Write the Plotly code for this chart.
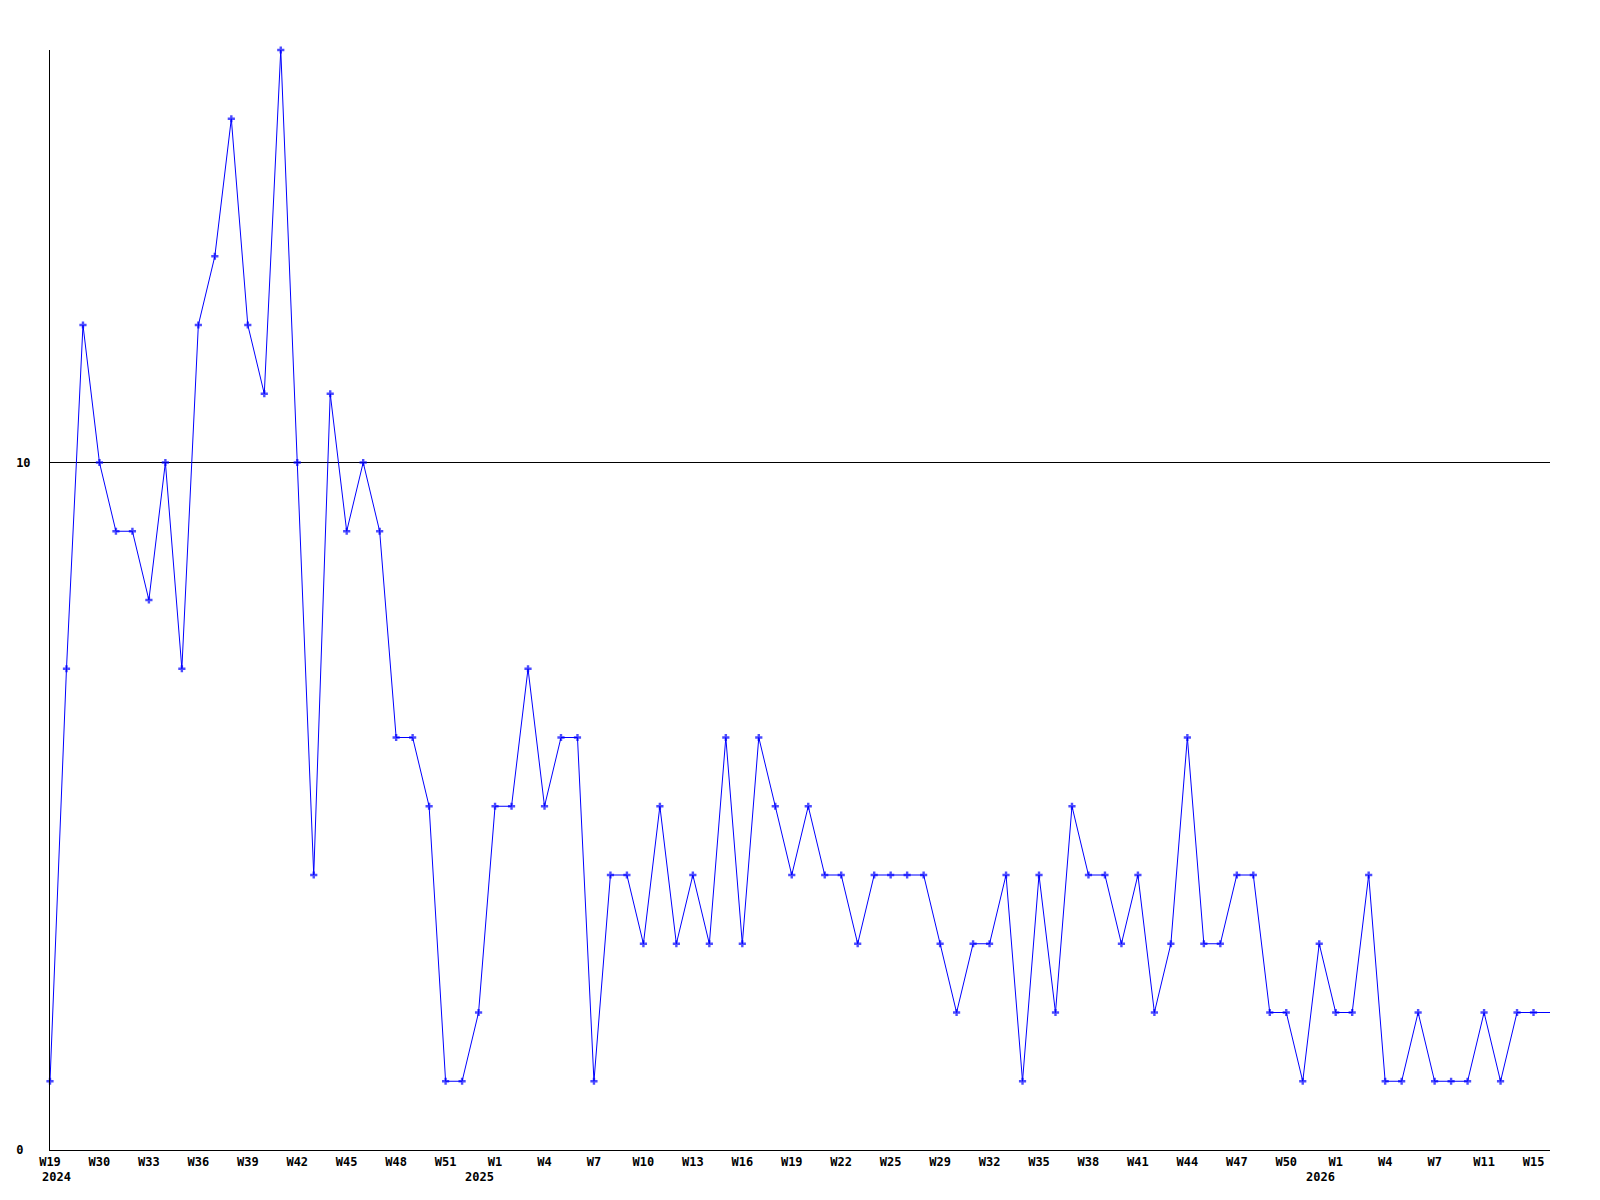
import plotly.graph_objects as go

# weekly counts, one value per week, oldest first
counts = [1, 7, 12, 10, 9, 9, 8, 10, 7, 12, 13, 15, 12, 11, 16, 10, 4, 11, 9, 10,
          9, 6, 6, 5, 1, 1, 2, 5, 5, 7, 5, 6, 6, 1, 4, 4, 3, 5, 3, 4,
          3, 6, 3, 6, 5, 4, 5, 4, 4, 3, 4, 4, 4, 4, 3, 2, 3, 3, 4, 1,
          4, 2, 5, 4, 4, 3, 4, 2, 3, 6, 3, 3, 4, 4, 2, 2, 1, 3, 2, 2,
          4, 1, 1, 2, 1, 1, 1, 2, 1, 2, 2, 2]

week_ticks = ["W19", "W30", "W33", "W36", "W39", "W42", "W45", "W48", "W51",
              "W1", "W4", "W7", "W10", "W13", "W16", "W19", "W22", "W25", "W29",
              "W32", "W35", "W38", "W41", "W44", "W47", "W50",
              "W1", "W4", "W7", "W11", "W15"]
tick_step = 3

years = ["2024", "2025", "2026"]
year_pos = [0, 27, 78]

y_ticks = [0, 10]
y_text = ["0\u00a0", "10"]

FONT = dict(family="DejaVu Sans Mono", size=12, color="black", weight="bold")

x = list(range(len(counts)))
sizes = [6] * (len(counts) - 1) + [0]   # last (current) week drawn without marker

fig = go.Figure()
fig.add_trace(go.Scatter(
    x=x, y=counts, mode="lines+markers",
    line=dict(color="#0000ff", width=1),
    marker=dict(symbol="cross", size=sizes, color="#0000ff", line=dict(width=0)),
    cliponaxis=False, showlegend=False,
))

for yr, pos in zip(years, year_pos):
    first = pos == 0
    fig.add_annotation(
        x=pos, y=0, xref="x", yref="y", text=yr, showarrow=False,
        xanchor="left" if first else "right", yanchor="middle",
        xshift=-10 if first else 1, yshift=-27, font=FONT,
    )

fig.update_xaxes(
    range=[0, len(counts) - 1],
    tickvals=x[::tick_step], ticktext=week_ticks,
    showgrid=False, zeroline=False, showline=True, linecolor="black", linewidth=1,
    ticks="", tickfont=FONT, ticklabelstandoff=1,
)
fig.update_yaxes(
    range=[0, 16], tickvals=y_ticks, ticktext=y_text,
    showgrid=True, gridcolor="black", gridwidth=1,
    zeroline=False, showline=True, linecolor="black", linewidth=1,
    ticks="", tickfont=FONT, ticklabelstandoff=16,
)
# the page body adds an 8px offset, so the margins are shifted to compensate
fig.update_layout(
    width=1600, height=1200,
    margin=dict(l=42, r=58, t=42, b=58, autoexpand=False),
    plot_bgcolor="white", paper_bgcolor="white",
)

fig.write_html("out.html")
